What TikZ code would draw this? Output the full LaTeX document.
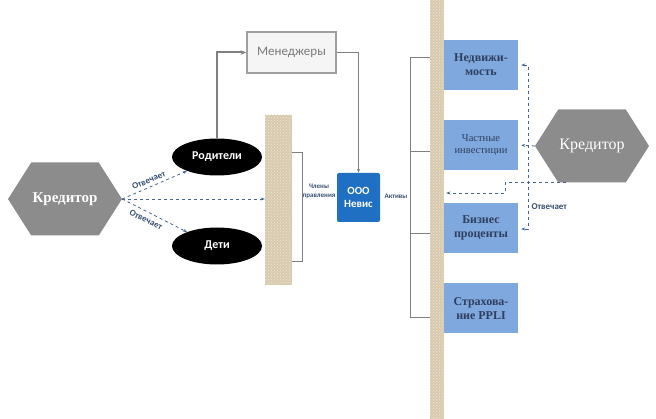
\documentclass[tikz,border=0pt]{standalone}
\usepackage{fontspec}
\setmainfont{Liberation Serif}
\setsansfont{Carlito}
\usetikzlibrary{shapes.geometric,shapes.symbols,arrows.meta,patterns,calc}

\definecolor{kredgray}{HTML}{8C8C8C}
\definecolor{nevisblue}{HTML}{1F6FC2}
\definecolor{aktivblue}{HTML}{7FA8DE}
\definecolor{textblue}{HTML}{2E3E5E}
\definecolor{dashblue}{HTML}{46648F}
\definecolor{stolb}{HTML}{D9CAAE}

\tikzset{
  kred/.style={signal, signal to=west and east, signal pointer angle=115,
    fill=kredgray, minimum width=114pt, minimum height=73pt, inner sep=0pt,
    text=white, font=\bfseries\fontsize{15}{15}\selectfont},
  semja/.style={ellipse, fill=black, minimum width=90pt, minimum height=37pt,
    text=white, font=\sffamily\bfseries\fontsize{12}{12}\selectfont},
  aktiv/.style={rectangle, fill=aktivblue, minimum width=74pt, minimum height=50pt,
    text=textblue, align=center, font=\bfseries\fontsize{12}{14}\selectfont},
  stolbik/.style={rectangle, fill=stolb,
    postaction={pattern=crosshatch dots, pattern color=white!55!stolb}},
  dasharr/.style={dashed, dashblue, thick, -{Stealth[length=4pt]}},
  skobka/.style={gray, thin},
  podpis/.style={text=dashblue!80!black, font=\sffamily\bfseries\fontsize{9}{10}\selectfont}
}

\begin{document}
\begin{tikzpicture}[x=1pt, y=-1pt]
  \useasboundingbox (0,0) rectangle (656,419);

  % Столбы
  \node[stolbik, minimum width=27pt, minimum height=170pt] (stolbL) at (278.5,200) {};
  \node[stolbik, minimum width=14pt, minimum height=419pt] (stolbR) at (437,209.5) {};

  % Кредиторы
  \node[kred] (kredL) at (65,199) {Кредитор};
  \node[kred, font=\fontsize{16}{16}\selectfont] (kredR) at (592,146) {Кредитор};

  % Семья
  \node[semja] (rod) at (217,157) {Родители};
  \node[semja] (deti) at (217,246) {Дети};

  % Менеджеры и ООО
  \node[draw=gray!75, line width=1.2pt, fill=gray!8, minimum width=89pt, minimum height=41pt,
    text=gray!95!black, font=\sffamily\fontsize{13}{13}\selectfont] (men) at (291.5,52.5) {Менеджеры};
  \node[fill=nevisblue, rounded corners=2pt, minimum width=43pt, minimum height=49pt,
    text=white, align=center, font=\sffamily\bfseries\fontsize{11}{13}\selectfont] (nevis) at (358.5,197.5) {ООО\\Невис};

  % Активы
  \node[aktiv] (nedv) at (481,65) {Недвижи-\\мость};
  \node[aktiv, font=\fontsize{10.5}{12}\selectfont] (chast) at (481,145) {Частные\\инвестиции};
  \node[aktiv] (biz) at (481,228) {Бизнес\\проценты};
  \node[aktiv] (strah) at (481,308.5) {Страхова-\\ние PPLI};

  % Связи
  \draw[gray, line width=2pt, -{Stealth[length=6pt]}] (rod.north) |- (men.west);
  \draw[gray, -{Stealth[length=4pt]}] (men.east) -| (nevis.north);

  % Скобки
  \draw[skobka] ([yshift=48pt]stolbL.east) -- ++(10,0) |- ([yshift=-61pt]stolbL.east);
  \draw[skobka] (stolbR.west |- 0,57) -| (410,317) -- (stolbR.west |- 0,317);
  \foreach \y in {151,233}
    \draw[skobka] (410,\y) -- (stolbR.west |- 0,\y);

  % Подписи
  \node[podpis, font=\sffamily\bfseries\fontsize{7}{9}\selectfont, align=center] (chleny) at (319,191) {Члены\\правления};
  \node[podpis, font=\sffamily\bfseries\fontsize{7}{9}\selectfont] (aktivy) at (396,196) {Активы};

  % Кредитор слева
  \draw[dasharr] (kredL.east) -- (rod.205) node[pos=0.45, above, sloped, podpis] {Отвечает};
  \draw[dasharr] (kredL.east) -- (deti.155) node[pos=0.42, below=1pt, sloped, podpis] {Отвечает};
  \draw[dasharr] (kredL.east) -- (stolbL.west |- kredL.east);

  % Кредитор справа
  \draw[dasharr, shorten >=3pt] (kredR.west) -- (chast.east);
  \coordinate (vverh) at (528,65);
  \coordinate (vniz) at (528,229);
  \draw[dasharr, {Stealth[length=4pt]}-{Stealth[length=4pt]}, shorten <=3pt, shorten >=3pt]
    (nedv.east |- vverh) -- (vverh) -- (vniz) -- (biz.east |- vniz);
  \node[podpis, anchor=west] (otv) at (528,207) {Отвечает};
  \coordinate (izlom) at (505,193);
  \draw[dasharr, shorten >=2pt] ([xshift=-26pt]kredR.south) -| (izlom) -- (stolbR.east |- izlom);
\end{tikzpicture}
\end{document}
